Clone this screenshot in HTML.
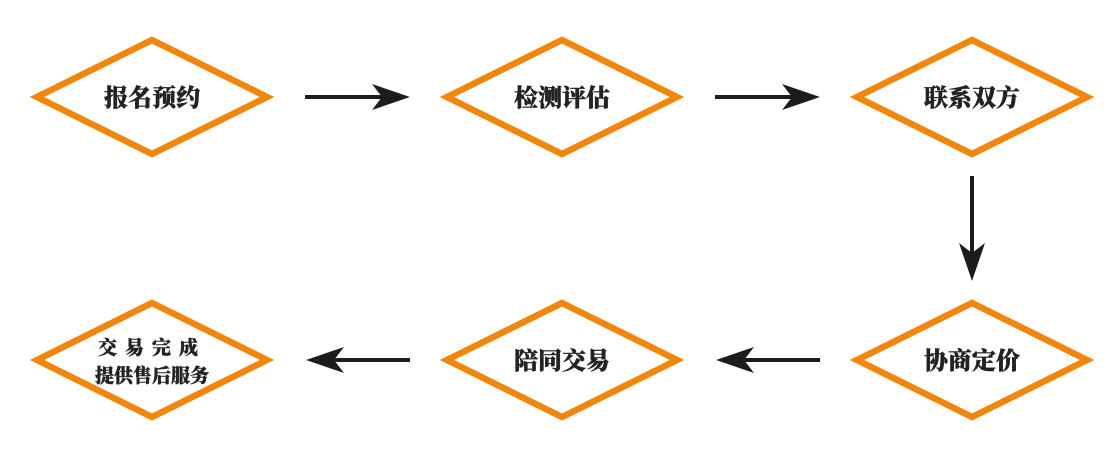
<!DOCTYPE html>
<html><head><meta charset="utf-8"><style>html,body{margin:0;padding:0;background:#fff;}</style></head>
<body>
<svg width="1120" height="457" viewBox="0 0 1120 457" xmlns="http://www.w3.org/2000/svg">
<defs>
<g id="ah"><path d="M0,0 L-38,-13 L-28,0 L-38,13 Z" fill="#1e1c1a"/></g>
</defs>
<g fill="#fff" stroke="#f0860c" stroke-width="6.5">
<polygon points="152,40 267,97 152,154 37,97"/>
<polygon points="562,40 677,97 562,154 447,97"/>
<polygon points="972,40 1087,97 972,154 857,97"/>
<polygon points="152,303 267,360 152,417 37,360"/>
<polygon points="562,303 677,360 562,417 447,360"/>
<polygon points="972,303 1087,360 972,417 857,360"/>
</g>
<g stroke="#1e1c1a" stroke-width="4">
<line x1="305" y1="97" x2="390" y2="97"/>
<line x1="715" y1="97" x2="800" y2="97"/>
<line x1="972" y1="176" x2="972" y2="262"/>
<line x1="820" y1="360" x2="735" y2="360"/>
<line x1="410" y1="360" x2="325" y2="360"/>
</g>
<use href="#ah" transform="translate(410,97)"/>
<use href="#ah" transform="translate(820,97)"/>
<use href="#ah" transform="translate(972,281) rotate(90)"/>
<use href="#ah" transform="translate(716,360) rotate(180)"/>
<use href="#ah" transform="translate(306,360) rotate(180)"/>
<g font-family="'Liberation Serif','Noto Serif CJK SC',serif" font-weight="900" font-size="24" fill="#222" text-anchor="middle" stroke="#222" stroke-width="0.4">
<text x="152" y="106">报名预约</text>
<text x="562" y="106">检测评估</text>
<text x="972" y="106">联系双方</text>
<text x="562" y="369">陪同交易</text>
<text x="972" y="369">协商定价</text>
<text x="152" y="354" font-size="19" letter-spacing="8">交易完成</text>
<text x="152" y="382" font-size="19">提供售后服务</text>
</g>
</svg>
</body></html>
